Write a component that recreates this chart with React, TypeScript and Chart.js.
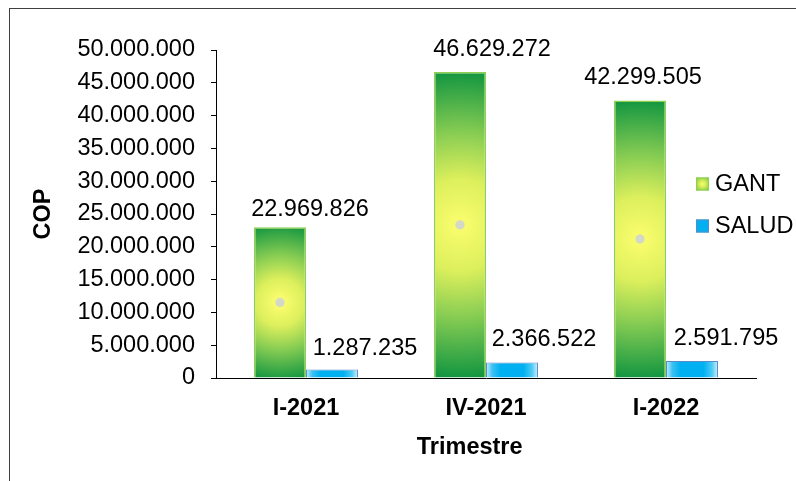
import { useEffect, useRef } from 'react';
import { Chart, registerables } from 'chart.js';

Chart.register(...registerables);

// ---- data ----
const categories = ['I-2021', 'IV-2021', 'I-2022'];
const seriesNames = ['GANT', 'SALUD'];
const gantValues = [22969826, 46629272, 42299505];
const saludValues = [1287235, 2366522, 2591795];
const yTickValues = [0, 5000000, 10000000, 15000000, 20000000, 25000000, 30000000, 35000000, 40000000, 45000000, 50000000];
const yAxisTitle = 'COP';
const xAxisTitle = 'Trimestre';

// ---- styling (label nudges in px relative to bar top-centre) ----
const gantLabelShift = [[30, -18], [32, -23], [3, -23]];
const saludLabelShift = [[33, -21], [32, -23], [34, -22]];
const labelShifts = [gantLabelShift, saludLabelShift];

const FONT = "'Liberation Sans', Arial, Helvetica, sans-serif";
const SIZE = 23.5;

function fmt(n: number): string {
  return String(Math.round(n)).replace(/\B(?=(\d{3})+(?!\d))/g, '.');
}

function gantGradient(c: CanvasRenderingContext2D, x: number, top: number, base: number, w: number) {
  const cx = x;
  const cy = (top + base) / 2;
  const h = Math.abs(base - top);
  const R = Math.max(1, Math.sqrt((w / 2) ** 2 + (h / 2) ** 2));
  const g = c.createRadialGradient(cx, cy, 0, cx, cy, R);
  const d1 = Math.min(0.2, 4 / R);
  const d2 = Math.min(0.25, 5.2 / R);
  g.addColorStop(0, '#d4d8c6');
  g.addColorStop(d1, '#d4d8c6');
  g.addColorStop(d2, '#f8fc6c');
  g.addColorStop(0.3, '#dcef5c');
  g.addColorStop(0.6, '#86cc53');
  g.addColorStop(1, '#0f9440');
  return g;
}

function saludGradient(c: CanvasRenderingContext2D, x: number, w: number) {
  const g = c.createLinearGradient(x - w / 2, 0, x + w / 2, 0);
  g.addColorStop(0, '#c8eefc');
  g.addColorStop(0.12, '#3cc2f3');
  g.addColorStop(0.28, '#00b0f0');
  g.addColorStop(0.72, '#00b0f0');
  g.addColorStop(0.88, '#4ccaf5');
  g.addColorStop(1, '#d2f1fd');
  return g;
}

const valueLabelsPlugin = {
  id: 'valueLabels',
  afterDatasetsDraw(chart: any) {
    const ctx = chart.ctx as CanvasRenderingContext2D;
    ctx.save();
    ctx.font = `${SIZE}px ${FONT}`;
    ctx.fillStyle = '#000';
    ctx.textAlign = 'center';
    ctx.textBaseline = 'middle';
    chart.data.datasets.forEach((ds: any, di: number) => {
      const meta = chart.getDatasetMeta(di);
      const shifts = labelShifts[di];
      meta.data.forEach((el: any, i: number) => {
        const { x, y } = el.getProps(['x', 'y'], true);
        ctx.fillText(fmt(ds.data[i]), x + shifts[i][0], y + shifts[i][1]);
      });
    });
    ctx.restore();
  },
};

const sideLegendPlugin = {
  id: 'sideLegend',
  afterDraw(chart: any, _args: any, opts: any) {
    const ctx = chart.ctx as CanvasRenderingContext2D;
    const { left, top, gap, box } = opts;
    ctx.save();
    ctx.font = `${SIZE}px ${FONT}`;
    ctx.textAlign = 'left';
    ctx.textBaseline = 'middle';
    chart.data.datasets.forEach((ds: any, i: number) => {
      const cy = top + i * gap;
      const bx = left;
      const by = cy - box / 2;
      if (i === 0) {
        const g = ctx.createRadialGradient(bx + box / 2, cy, 0, bx + box / 2, cy, box * 0.7);
        g.addColorStop(0, '#f8fc6c');
        g.addColorStop(0.35, '#d6ee58');
        g.addColorStop(1, '#6cc24a');
        ctx.fillStyle = g;
        ctx.fillRect(bx, by, box, box);
        ctx.strokeStyle = '#8fd14f';
      } else {
        ctx.fillStyle = '#00b0f0';
        ctx.fillRect(bx, by, box, box);
        ctx.strokeStyle = '#5b8bc9';
      }
      ctx.lineWidth = 1;
      ctx.strokeRect(bx + 0.5, by + 0.5, box - 1, box - 1);
      ctx.fillStyle = '#000';
      ctx.fillText(ds.label, bx + box + 6, cy + 1);
    });
    ctx.restore();
  },
};

export default function App() {
  const ref = useRef<HTMLCanvasElement>(null);

  useEffect(() => {
    const canvas = ref.current;
    if (!canvas) return;
    const tickFont = { family: FONT, size: SIZE };
    const boldFont = { family: FONT, size: SIZE, weight: 'bold' as const };

    const chart = new Chart(canvas, {
      type: 'bar',
      data: {
        labels: categories,
        datasets: [
          {
            label: seriesNames[0],
            data: gantValues,
            backgroundColor: (c: any) => {
              const el = c.element;
              if (!el || !Number.isFinite(el.x) || !Number.isFinite(el.base)) return '#86cc53';
              return gantGradient(c.chart.ctx, el.x, el.y, el.base, el.width);
            },
            borderColor: '#8fd14f',
            borderWidth: 1.5,
          },
          {
            label: seriesNames[1],
            data: saludValues,
            backgroundColor: (c: any) => {
              const el = c.element;
              if (!el || !Number.isFinite(el.x) || !Number.isFinite(el.width)) return '#00b0f0';
              return saludGradient(c.chart.ctx, el.x, el.width);
            },
            borderColor: '#5b8bc9',
            borderWidth: 1,
          },
        ],
      },
      options: {
        responsive: false,
        animation: false,
        devicePixelRatio: 1,
        layout: { padding: { left: 0, right: 40, top: 50, bottom: 0 } },
        datasets: {
          bar: { categoryPercentage: 0.578, barPercentage: 1.0 },
        },
        plugins: {
          legend: { display: false },
          title: { display: false },
          tooltip: { enabled: false },
          // @ts-ignore
          sideLegend: { left: 696, top: 184, gap: 42, box: 13 },
        },
        scales: {
          x: {
            type: 'category',
            grid: { display: false, drawTicks: false },
            border: { display: true, color: '#000', width: 1 },
            ticks: { color: '#000', font: boldFont, padding: 16 },
            title: {
              display: true,
              text: xAxisTitle + '     ',
              color: '#000',
              font: boldFont,
              padding: { top: 0, bottom: 19 },
            },
            afterFit: (s: any) => {
              s.height = 103;
            },
          },
          y: {
            type: 'linear',
            min: 0,
            max: 50000000,
            afterBuildTicks: (s: any) => {
              s.ticks = yTickValues.map((v) => ({ value: v }));
            },
            grid: { drawOnChartArea: false, drawTicks: true, tickLength: 5, color: '#000' },
            border: { display: true, color: '#000', width: 1 },
            ticks: {
              color: '#000',
              font: tickFont,
              padding: 16,
              callback: (v: any) => fmt(Number(v)),
            },
            title: {
              display: true,
              text: yAxisTitle,
              color: '#000',
              font: boldFont,
              padding: { top: 29, bottom: 0 },
            },
            afterFit: (s: any) => {
              s.width = 216;
            },
          },
        },
      },
      plugins: [valueLabelsPlugin, sideLegendPlugin],
    } as any);
    chart.update();

    return () => chart.destroy();
  }, []);

  return (
    <div
      style={{
        position: 'absolute',
        left: 0,
        top: 0,
        width: 796,
        height: 481,
        overflow: 'hidden',
        background: '#fff',
      }}
    >
      <div
        style={{
          position: 'absolute',
          left: 9,
          top: 8,
          width: 820,
          height: 520,
          borderLeft: '1px solid #404040',
          borderTop: '1px solid #404040',
        }}
      />
      <canvas
        ref={ref}
        width={796}
        height={481}
        style={{ position: 'absolute', left: 0, top: 0, width: 796, height: 481 }}
      />
    </div>
  );
}
